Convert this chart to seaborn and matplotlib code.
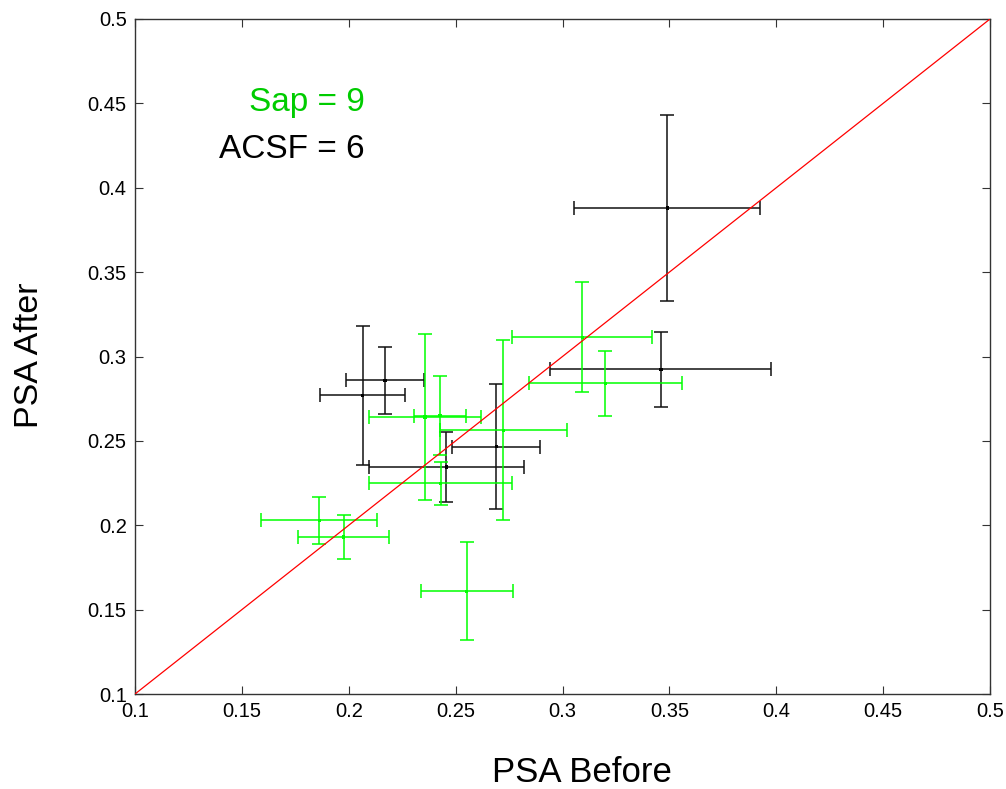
import matplotlib
matplotlib.use("Agg")
import matplotlib.pyplot as plt
import seaborn as sns
import numpy as np
import pandas as pd

# ACSF (black) points
acsf_x = [0.349, 0.346, 0.217, 0.2065, 0.269, 0.2457]
acsf_y = [0.388, 0.2924, 0.2859, 0.2770, 0.2466, 0.2345]
acsf_xerr = [0.0434, 0.0517, 0.0182, 0.0200, 0.0207, 0.0363]
acsf_yerr = [0.055, 0.0224, 0.0199, 0.0412, 0.0370, 0.0209]

# Sap (green) points
sap_x = [0.2357, 0.2427, 0.2723, 0.2430, 0.1862, 0.1976, 0.2552, 0.3093, 0.3200]
sap_y = [0.2641, 0.2649, 0.2563, 0.2249, 0.2029, 0.1930, 0.1609, 0.3114, 0.2841]
sap_xerr = [0.0262, 0.0121, 0.0297, 0.0335, 0.0272, 0.0214, 0.0216, 0.0327, 0.0359]
sap_yerr = [0.0494, 0.0235, 0.0534, 0.0127, 0.0139, 0.0129, 0.0290, 0.0327, 0.0193]

ticks = [0.1, 0.15, 0.2, 0.25, 0.3, 0.35, 0.4, 0.45, 0.5]
tick_labels = ["0.1", "0.15", "0.2", "0.25", "0.3", "0.35", "0.4", "0.45", "0.5"]

sns.set_style("white")
plt.rcParams['font.family'] = ['Liberation Sans', 'DejaVu Sans']
plt.rcParams['text.color'] = 'black'

fig = plt.figure(figsize=(10.06, 7.89), dpi=100)
ax = fig.add_axes([135/1006, 1-694/789, 855/1006, 675/789])

green = '#00ff00'

df = pd.DataFrame({
    'x': acsf_x + sap_x,
    'y': acsf_y + sap_y,
    'group': ['ACSF'] * len(acsf_x) + ['Sap'] * len(sap_x),
})

ax.errorbar(acsf_x, acsf_y, xerr=acsf_xerr, yerr=acsf_yerr, fmt='none',
            ecolor='#111111', elinewidth=1.1, capsize=5, capthick=1.1, zorder=2)
ax.errorbar(sap_x, sap_y, xerr=sap_xerr, yerr=sap_yerr, fmt='none',
            ecolor=green, elinewidth=1.1, capsize=5, capthick=1.1, zorder=2)
sns.scatterplot(data=df, x='x', y='y', hue='group', palette={'ACSF': 'black', 'Sap': green},
                marker='s', s=6, linewidth=0, legend=False, ax=ax, zorder=3)

ax.plot([0.1, 0.5], [0.1, 0.5], color='red', linewidth=0.9, zorder=4)

ax.set_xlim(0.1, 0.5)
ax.set_ylim(0.1, 0.5)
ax.set_xticks(ticks)
ax.set_xticklabels(tick_labels)
ax.set_yticks(ticks)
ax.set_yticklabels(tick_labels)
ax.tick_params(direction='in', length=6, width=0.8, colors='#333333', labelcolor='black',
               labelsize=14.5, top=True, right=True, bottom=True, left=True, pad=6)

for s in ax.spines.values():
    s.set_visible(True)
    s.set_color('#333333')
    s.set_linewidth(1.0)

ax.set_xlabel('')
ax.set_ylabel('')
fig.text(582/1006, 1-773/789, 'PSA Before', fontsize=25, color='black', ha='center', va='center')
fig.text(30/1006, 1-355/789, 'PSA After', fontsize=24.5, color='black', ha='center', va='center', rotation=90)

ax.text(0.2076, 0.4508, 'Sap = 9', color='#00cc00', fontsize=24, ha='right', va='center')
ax.text(0.2076, 0.4224, 'ACSF = 6', color='black', fontsize=24, ha='right', va='center')

fig.savefig('out.png', dpi=100)
